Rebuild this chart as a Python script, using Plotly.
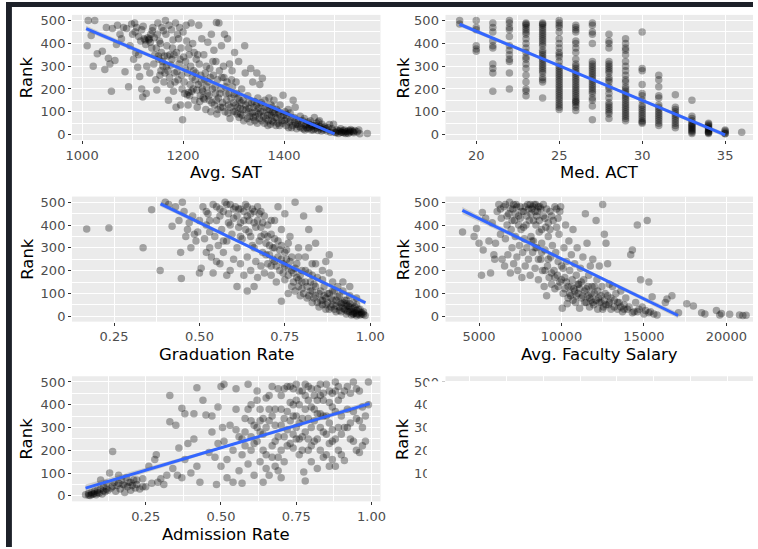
import plotly.graph_objects as go

W, H = 758, 549

# Avg. SAT vs rank
sat_pts = [
    (1010, 390), (1012, 500), (1018, 435), (1022, 300), (1025, 500), (1030, 355), (1040, 365), (1045, 285),
    (1048, 470), (1052, 335), (1055, 310), (1058, 190), (1060, 465), (1065, 325), (1068, 395), (1070, 480),
    (1075, 440), (1078, 420), (1082, 470), (1085, 275), (1088, 465), (1092, 210), (1095, 390), (1098, 485),
    (1100, 440), (1102, 330), (1104, 490), (1106, 360), (1108, 470), (1110, 295), (1112, 350), (1114, 255),
    (1116, 410), (1118, 200), (1120, 165), (1121, 475), (1123, 420), (1125, 415), (1127, 180), (1128, 300),
    (1130, 425), (1132, 415), (1133, 420), (1134, 270), (1136, 440), (1138, 380), (1140, 470), (1142, 310),
    (1144, 350), (1146, 240), (1148, 195), (1149, 440), (1150, 490), (1152, 330), (1154, 260), (1155, 400),
    (1157, 360), (1158, 470), (1160, 300), (1162, 230), (1163, 345), (1165, 500), (1166, 440), (1168, 390),
    (1170, 280), (1171, 150), (1172, 480), (1174, 350), (1175, 220), (1177, 460), (1178, 330), (1180, 415),
    (1181, 190), (1183, 270), (1185, 490), (1186, 120), (1187, 360), (1189, 440), (1190, 240), (1192, 310),
    (1193, 470), (1195, 130), (1196, 380), (1198, 200), (1199, 65), (1200, 450), (1201, 340), (1203, 180),
    (1204, 290), (1206, 480), (1207, 410), (1208, 175), (1210, 130), (1211, 185), (1212, 350), (1213, 170),
    (1215, 300), (1216, 490), (1218, 250), (1219, 400), (1220, 200), (1222, 360), (1223, 150), (1225, 270),
    (1226, 330), (1228, 120), (1230, 220), (1231, 480), (1232, 310), (1234, 170), (1235, 260), (1237, 420),
    (1238, 200), (1240, 160), (1241, 350), (1242, 155), (1243, 240), (1245, 110), (1246, 300), (1248, 180),
    (1249, 405), (1250, 230), (1252, 150), (1253, 290), (1255, 100), (1256, 440), (1258, 200), (1260, 260),
    (1261, 370), (1262, 130), (1264, 180), (1265, 320), (1266, 492), (1267, 90), (1268, 240), (1270, 160),
    (1271, 490), (1272, 280), (1274, 120), (1275, 200), (1276, 390), (1278, 140), (1280, 300), (1281, 250),
    (1282, 440), (1283, 100), (1285, 180), (1287, 230), (1288, 420), (1290, 130), (1292, 310), (1293, 70),
    (1295, 160), (1297, 280), (1298, 210), (1300, 140), (1302, 360), (1303, 100), (1305, 230), (1306, 180),
    (1308, 120), (1310, 320), (1312, 150), (1314, 90), (1316, 200), (1318, 110), (1320, 60), (1322, 390),
    (1323, 270), (1324, 130), (1328, 170), (1330, 100), (1332, 80), (1334, 290), (1336, 140), (1338, 230),
    (1340, 120), (1342, 60), (1344, 100), (1346, 270), (1348, 160), (1350, 90), (1352, 220), (1354, 130),
    (1356, 60), (1357, 247), (1358, 100), (1362, 150), (1364, 70), (1366, 110), (1368, 40), (1370, 160),
    (1372, 90), (1374, 130), (1376, 60), (1378, 100), (1380, 150), (1382, 75), (1385, 110), (1388, 50),
    (1390, 90), (1392, 130), (1395, 60), (1398, 172), (1399, 85), (1402, 100), (1404, 40), (1406, 70),
    (1408, 110), (1410, 55), (1412, 95), (1415, 30), (1418, 150), (1420, 75), (1422, 120), (1423, 45),
    (1428, 60), (1430, 35), (1432, 80), (1435, 50), (1438, 25), (1440, 70), (1442, 40), (1445, 30),
    (1448, 55), (1450, 30), (1452, 60), (1455, 35), (1458, 20), (1460, 75), (1462, 40), (1465, 30),
    (1468, 55), (1470, 60), (1472, 25), (1475, 45), (1478, 20), (1480, 35), (1485, 15), (1490, 44),
    (1492, 10), (1495, 25), (1498, 45), (1502, 10), (1505, 20), (1508, 5), (1510, 15), (1512, 25),
    (1515, 10), (1518, 8), (1520, 20), (1522, 5), (1525, 12), (1528, 18), (1530, 10), (1532, 22),
    (1535, 15), (1538, 8), (1540, 18), (1545, 12), (1548, 20), (1550, 3), (1565, 5),
    (1105, 450), (1112, 430), (1118, 460), (1126, 395), (1135, 405), (1139, 455), (1143, 425), (1147, 380),
    (1151, 345), (1153, 410), (1156, 280), (1159, 320), (1161, 455), (1164, 270), (1167, 300), (1169, 345),
    (1173, 250), (1176, 305), (1179, 380), (1182, 350), (1184, 230), (1188, 275), (1191, 420), (1194, 330),
    (1197, 260), (1202, 230), (1205, 320), (1209, 270), (1211, 380), (1214, 220), (1217, 190), (1221, 280),
    (1224, 240), (1227, 195), (1229, 350), (1233, 145), (1236, 230), (1239, 190), (1244, 270), (1247, 210),
    (1251, 170), (1254, 250), (1257, 140), (1259, 320), (1263, 210), (1266, 150), (1269, 110), (1273, 180),
    (1277, 250), (1279, 120), (1284, 210), (1286, 150), (1289, 95), (1291, 180), (1294, 120), (1296, 240),
    (1299, 100), (1301, 175), (1304, 130), (1307, 90), (1309, 160), (1311, 75), (1313, 115), (1315, 140),
    (1317, 85), (1319, 150), (1325, 110), (1327, 70), (1329, 140), (1331, 115), (1333, 55), (1337, 95),
    (1339, 75), (1341, 145), (1343, 80), (1345, 130), (1347, 50), (1349, 115), (1351, 70), (1353, 100),
    (1355, 140), (1359, 80), (1361, 50), (1363, 120), (1367, 85), (1369, 60), (1371, 110), (1373, 45),
    (1375, 85), (1377, 120), (1379, 55), (1381, 95), (1384, 40), (1386, 70), (1389, 100), (1391, 40),
    (1394, 80), (1397, 50), (1401, 60), (1405, 85), (1409, 30), (1413, 60), (1417, 40), (1421, 55),
    (1425, 25), (1427, 45), (1433, 30), (1437, 60), (1441, 20), (1444, 45), (1447, 25), (1451, 45),
    (1454, 20), (1457, 40), (1461, 25), (1464, 50), (1467, 18), (1471, 35), (1474, 15), (1477, 30),
    (1483, 25), (1487, 30), (1497, 15), (1503, 8), (1507, 15), (1513, 10), (1517, 18), (1521, 12),
    (1527, 5), (1531, 15), (1537, 12),
]

# Med. ACT: ranks found at each ACT score
act_ranks = {
    19: [500, 485],
    20: [500, 470, 460, 390, 375, 365],
    21: [490, 470, 450, 410, 390, 380, 310, 290, 270, 190],
    22: [500, 490, 470, 460, 430, 390, 370, 350, 330, 320, 270, 200],
    23: [490, 485, 480, 470, 460, 450, 440, 420, 400, 380, 360, 340, 330, 310, 290, 260, 230, 200, 190, 170],
    24: [490, 485, 480, 470, 460, 450, 440, 430, 420, 410, 400, 390, 370, 360, 350, 340, 330, 320, 310,
         300, 290, 280, 270, 250, 240, 230, 160],
    25: [500, 490, 480, 470, 450, 420, 400, 380, 360, 350, 340, 320, 300, 290, 280, 270, 260, 250, 240, 230,
         220, 210, 200, 190, 180, 170, 160, 150, 140, 130, 120, 110],
    26: [480, 470, 460, 450, 410, 400, 380, 360, 330, 310, 300, 290, 280, 270, 260, 250, 240, 230,
         220, 210, 200, 190, 180, 170, 160, 150, 145, 140, 130, 120, 105],
    27: [490, 480, 450, 440, 400, 320, 310, 300, 290, 280, 270, 260, 250, 240, 230, 220, 210, 200,
         190, 180, 160, 150, 125, 65],
    28: [440, 410, 400, 380, 320, 310, 300, 290, 280, 270, 250, 240, 230, 210, 200, 180, 160, 140,
         130, 120, 110, 100, 90, 70],
    29: [420, 400, 380, 370, 350, 320, 300, 280, 260, 240, 230, 210, 200, 190, 180, 170, 160, 150,
         140, 130, 120, 110, 100, 90, 80, 70, 60],
    30: [450, 290, 280, 220, 180, 170, 150, 130, 120, 110, 100, 90, 80, 70, 60, 55, 50],
    31: [260, 240, 210, 170, 160, 130, 120, 110, 100, 90, 80, 70, 60, 50, 40],
    32: [175, 120, 110, 100, 90, 80, 70, 60, 50, 40, 30],
    33: [150, 80, 70, 60, 50, 45, 40, 35, 30, 25, 20, 15, 10, 5],
    34: [50, 45, 40, 35, 30, 25, 20, 15, 12, 10, 8, 5],
    35: [20, 15, 10, 5, 3],
    36: [10],
}

# Graduation Rate vs rank
grad_pts = [
    (0.17, 383), (0.235, 387), (0.335, 300), (0.36, 467), (0.385, 200),
    (0.40, 500), (0.41, 490), (0.42, 395), (0.43, 480), (0.44, 420), (0.445, 280), (0.447, 165), (0.45, 500),
    (0.455, 460), (0.46, 350), (0.465, 380), (0.47, 410), (0.475, 300), (0.48, 440), (0.485, 360), (0.49, 330),
    (0.495, 370), (0.50, 190), (0.50, 420), (0.505, 210), (0.51, 480), (0.515, 340), (0.52, 280), (0.52, 400),
    (0.525, 450), (0.53, 300), (0.53, 370), (0.535, 260), (0.54, 490), (0.54, 190), (0.545, 350), (0.55, 240),
    (0.55, 420), (0.555, 310), (0.56, 470), (0.56, 230), (0.565, 380), (0.57, 280), (0.57, 330), (0.575, 500),
    (0.58, 330), (0.58, 180), (0.585, 450), (0.59, 200), (0.59, 490), (0.59, 400), (0.595, 360), (0.60, 250),
    (0.60, 430), (0.605, 480), (0.61, 130), (0.61, 300), (0.615, 390), (0.62, 230), (0.62, 470), (0.62, 350),
    (0.625, 340), (0.63, 180), (0.63, 420), (0.635, 490), (0.64, 260), (0.64, 110), (0.64, 440), (0.645, 370),
    (0.65, 200), (0.65, 450), (0.655, 310), (0.66, 130), (0.66, 410), (0.66, 300), (0.665, 240), (0.67, 480),
    (0.67, 170), (0.675, 330), (0.68, 220), (0.68, 390), (0.68, 460), (0.685, 280), (0.69, 190), (0.69, 440),
    (0.695, 320), (0.70, 230), (0.70, 350), (0.705, 270), (0.71, 180), (0.71, 420), (0.71, 220), (0.715, 300),
    (0.72, 240), (0.72, 340), (0.72, 420), (0.725, 150), (0.73, 260), (0.73, 480), (0.735, 200), (0.74, 310),
    (0.74, 65), (0.74, 380), (0.745, 230), (0.75, 160), (0.75, 450), (0.75, 280), (0.755, 290), (0.76, 100),
    (0.76, 210), (0.76, 320), (0.765, 350), (0.77, 130), (0.77, 260), (0.775, 190), (0.78, 500), (0.78, 110),
    (0.785, 230), (0.79, 160), (0.79, 300), (0.79, 260), (0.795, 90), (0.80, 200), (0.80, 120), (0.805, 440),
    (0.81, 150), (0.81, 260), (0.815, 80), (0.82, 190), (0.82, 380), (0.82, 300), (0.825, 110), (0.83, 60),
    (0.83, 230), (0.83, 180), (0.835, 140), (0.84, 320), (0.84, 90), (0.84, 230), (0.845, 170), (0.85, 40),
    (0.85, 470), (0.855, 110), (0.86, 200), (0.86, 70), (0.86, 160), (0.865, 130), (0.87, 50), (0.87, 240),
    (0.87, 80), (0.875, 100), (0.88, 30), (0.88, 270), (0.88, 190), (0.885, 80), (0.89, 150), (0.89, 50),
    (0.89, 110), (0.895, 110), (0.90, 20), (0.90, 70), (0.905, 130), (0.91, 40), (0.91, 90), (0.91, 60),
    (0.915, 20), (0.92, 60), (0.92, 110), (0.92, 150), (0.925, 30), (0.93, 10), (0.93, 70), (0.93, 25),
    (0.935, 45), (0.94, 20), (0.94, 90), (0.94, 130), (0.945, 5), (0.95, 35), (0.95, 60), (0.95, 12),
    (0.955, 15), (0.96, 25), (0.96, 50), (0.96, 80), (0.965, 10), (0.97, 5), (0.97, 30), (0.975, 15),
    (0.98, 8), (0.985, 3),
    (0.52, 460), (0.53, 420), (0.55, 480), (0.56, 440), (0.57, 460), (0.58, 490), (0.585, 410), (0.60, 470),
    (0.61, 440), (0.615, 470), (0.62, 410), (0.63, 460), (0.635, 380), (0.64, 480), (0.645, 420), (0.65, 350),
    (0.655, 470), (0.66, 460), (0.665, 390), (0.67, 420), (0.675, 450), (0.68, 350), (0.685, 410), (0.69, 360),
    (0.695, 270), (0.70, 400), (0.705, 310), (0.71, 360), (0.715, 250), (0.72, 300), (0.725, 220), (0.73, 330),
    (0.735, 290), (0.74, 250), (0.745, 190), (0.75, 220), (0.755, 250), (0.76, 180), (0.765, 240), (0.77, 200),
    (0.775, 150), (0.78, 210), (0.785, 170), (0.79, 130), (0.795, 180), (0.80, 150), (0.805, 100), (0.81, 200),
    (0.815, 130), (0.82, 90), (0.825, 150), (0.83, 110), (0.835, 80), (0.84, 130), (0.845, 60), (0.85, 100),
    (0.855, 70), (0.86, 50), (0.865, 90), (0.87, 30), (0.875, 60), (0.88, 100), (0.885, 40), (0.89, 70),
    (0.895, 30), (0.90, 45), (0.905, 85), (0.91, 25), (0.915, 55), (0.92, 35), (0.925, 70), (0.93, 45),
    (0.935, 20), (0.94, 55), (0.945, 30), (0.95, 20), (0.955, 40), (0.96, 10), (0.965, 30), (0.97, 18),
    (0.975, 8), (0.98, 20), (0.96, 2), (0.95, 8), (0.94, 40), (0.93, 55),
]

# Avg. Faculty Salary vs rank
salary_pts = [
    (4000, 370), (4700, 350), (4850, 385), (5000, 320), (5150, 180), (5200, 455), (5250, 290), (5400, 430),
    (5600, 330), (5700, 190), (5800, 410), (5900, 270), (5950, 250), (6000, 320), (6100, 460), (6200, 490),
    (6300, 360), (6350, 430), (6400, 250), (6500, 480), (6550, 220), (6600, 340), (6700, 400), (6750, 270),
    (6800, 450), (6850, 500), (6900, 190), (6950, 380), (7000, 300), (7050, 470), (7100, 230), (7150, 420),
    (7200, 350), (7250, 490), (7300, 260), (7350, 200), (7400, 440), (7450, 310), (7500, 480), (7550, 380),
    (7600, 170), (7650, 280), (7700, 460), (7750, 340), (7800, 220), (7850, 400), (7900, 300), (7950, 490),
    (8000, 250), (8050, 420), (8100, 180), (8150, 350), (8200, 470), (8250, 280), (8300, 330), (8350, 490),
    (8400, 210), (8450, 400), (8500, 300), (8550, 460), (8600, 160), (8650, 370), (8700, 480), (8750, 250),
    (8800, 320), (8850, 200), (8900, 440), (8950, 130), (9000, 290), (9050, 390), (9100, 90), (9150, 220),
    (9200, 350), (9250, 170), (9300, 460), (9350, 260), (9400, 140), (9450, 310), (9500, 420), (9550, 200),
    (9600, 120), (9650, 280), (9700, 470), (9750, 180), (9800, 240), (9850, 360), (9900, 150), (9950, 480),
    (10000, 220), (10050, 35), (10100, 100), (10150, 300), (10200, 170), (10250, 400), (10300, 240),
    (10350, 55), (10400, 130), (10450, 330), (10500, 200), (10550, 90), (10600, 270), (10650, 160),
    (10700, 380), (10750, 120), (10800, 230), (10850, 60), (10900, 180), (10950, 300), (11000, 100),
    (11050, 140), (11100, 35), (11150, 210), (11200, 80), (11300, 260), (11350, 160), (11400, 60),
    (11450, 450), (11500, 120), (11550, 320), (11600, 90), (11650, 180), (11700, 40), (11750, 220),
    (11800, 70), (11850, 130), (11900, 250), (11950, 50), (12000, 100), (12100, 420), (12150, 160),
    (12200, 30), (12250, 80), (12300, 220), (12400, 60), (12450, 130), (12500, 490), (12550, 40),
    (12600, 360), (12650, 100), (12700, 320), (12800, 230), (12850, 50), (12900, 140), (13000, 80),
    (13100, 130), (13200, 40), (13300, 100), (13400, 30), (13500, 60), (13600, 110), (13700, 20),
    (13800, 50), (13900, 80), (14000, 30), (14200, 270), (14300, 290), (14400, 20), (14500, 60),
    (14600, 400), (14700, 30), (14800, 160), (14900, 40), (15000, 10), (15200, 420), (15300, 150),
    (15400, 20), (15500, 85), (15600, 10), (15800, 5), (16300, 60), (16400, 75), (16700, 90),
    (17100, 15), (17600, 55), (18000, 45), (18500, 15), (18700, 10), (19400, 25), (19600, 5),
    (19700, 12), (20200, 8), (20800, 5), (21000, 3), (21200, 4),
    (6300, 470), (6600, 490), (6700, 440), (6900, 470), (7000, 420), (7100, 490), (7200, 450), (7300, 480),
    (7400, 400), (7500, 430), (7600, 460), (7700, 390), (7800, 480), (7900, 440), (8000, 470), (8100, 490),
    (8150, 450), (8250, 480), (8300, 420), (8400, 460), (8450, 490), (8500, 440), (8600, 480), (8650, 420),
    (8750, 470), (8800, 380), (8900, 490), (9000, 430), (9100, 470), (9200, 410), (9300, 380), (9400, 440),
    (9600, 480), (9700, 390), (9800, 430), (9900, 460), (8200, 330), (8400, 300), (8600, 250), (8800, 280),
    (9000, 200), (9200, 250), (9400, 190), (9600, 170), (9800, 130), (10000, 160), (10100, 210),
    (10200, 120), (10300, 150), (10400, 80), (10500, 100), (10600, 130), (10700, 70), (10800, 110),
    (10900, 90), (11000, 140), (11100, 120), (11200, 150), (11300, 90), (11400, 110), (11500, 60),
    (11600, 130), (11700, 80), (11800, 100), (11900, 60), (12000, 130), (12100, 70), (12200, 110),
    (12300, 60), (12400, 90), (12500, 30), (12600, 70), (12700, 50), (12800, 90), (12900, 60), (13000, 30),
    (13200, 70), (13400, 60), (13600, 40), (13800, 30), (14100, 40), (14300, 15), (14600, 20), (15100, 25),
    (15300, 15),
]

# Admission Rate vs rank
admit_pts = [
    (0.05, 5), (0.06, 10), (0.065, 2), (0.07, 15), (0.075, 8), (0.08, 20), (0.085, 5), (0.09, 25),
    (0.095, 12), (0.10, 30), (0.10, 70), (0.105, 8), (0.11, 40), (0.115, 18), (0.12, 55), (0.125, 25),
    (0.13, 100), (0.135, 35), (0.14, 195), (0.145, 60), (0.15, 20), (0.155, 45), (0.16, 90), (0.165, 30),
    (0.17, 70), (0.175, 50), (0.18, 15), (0.185, 80), (0.19, 40), (0.195, 60), (0.20, 25), (0.205, 45),
    (0.21, 70), (0.215, 35), (0.22, 50), (0.23, 30), (0.24, 75), (0.25, 40), (0.26, 130), (0.27, 55),
    (0.28, 160), (0.285, 180), (0.29, 60), (0.30, 75), (0.31, 50), (0.32, 90), (0.33, 440), (0.33, 325),
    (0.34, 120), (0.35, 310), (0.355, 90), (0.36, 210), (0.37, 385), (0.37, 80), (0.38, 360), (0.38, 160),
    (0.39, 230), (0.40, 100), (0.41, 250), (0.41, 360), (0.42, 475), (0.42, 130), (0.43, 60), (0.44, 420),
    (0.45, 355), (0.46, 190), (0.47, 280), (0.47, 350), (0.48, 170), (0.485, 50), (0.49, 390), (0.49, 230),
    (0.50, 480), (0.50, 130), (0.505, 300), (0.51, 490), (0.51, 240), (0.52, 160), (0.52, 80), (0.53, 310),
    (0.54, 200), (0.54, 60), (0.55, 470), (0.55, 380), (0.56, 260), (0.56, 110), (0.57, 180), (0.57, 55),
    (0.58, 340), (0.58, 220), (0.58, 280), (0.59, 490), (0.59, 140), (0.60, 400), (0.60, 200), (0.60, 260),
    (0.61, 310), (0.61, 90), (0.62, 460), (0.62, 240), (0.62, 300), (0.63, 380), (0.63, 150), (0.64, 60),
    (0.64, 270), (0.64, 340), (0.65, 430), (0.65, 180), (0.66, 330), (0.66, 90), (0.66, 380), (0.67, 480),
    (0.67, 220), (0.68, 130), (0.68, 380), (0.68, 310), (0.69, 470), (0.69, 260), (0.70, 200), (0.70, 80),
    (0.70, 440), (0.71, 340), (0.71, 150), (0.72, 480), (0.72, 290), (0.72, 370), (0.73, 230), (0.73, 410),
    (0.74, 350), (0.74, 270), (0.74, 470), (0.75, 490), (0.75, 420), (0.75, 250), (0.76, 180), (0.76, 320),
    (0.76, 400), (0.77, 260), (0.77, 460), (0.775, 105), (0.78, 380), (0.78, 65), (0.78, 440), (0.79, 200),
    (0.79, 480), (0.79, 340), (0.80, 300), (0.80, 150), (0.80, 390), (0.81, 440), (0.81, 240), (0.82, 360),
    (0.82, 120), (0.82, 470), (0.83, 490), (0.83, 200), (0.83, 300), (0.84, 280), (0.84, 420), (0.84, 450),
    (0.85, 180), (0.85, 350), (0.86, 460), (0.86, 130), (0.86, 410), (0.87, 240), (0.87, 390), (0.87, 290),
    (0.88, 500), (0.88, 130), (0.88, 460), (0.89, 300), (0.89, 200), (0.90, 440), (0.90, 350), (0.91, 155),
    (0.91, 300), (0.92, 480), (0.92, 380), (0.93, 320), (0.94, 500), (0.94, 240), (0.95, 200), (0.95, 340),
    (0.96, 460), (0.96, 190), (0.97, 300), (0.97, 390), (0.98, 240), (0.99, 500), (0.99, 400),
    (0.60, 330), (0.62, 420), (0.63, 280), (0.64, 200), (0.65, 300), (0.66, 440), (0.67, 350), (0.68, 240),
    (0.69, 170), (0.70, 310), (0.70, 380), (0.71, 260), (0.71, 470), (0.72, 220), (0.73, 330), (0.73, 480),
    (0.74, 210), (0.74, 400), (0.75, 300), (0.75, 350), (0.76, 460), (0.76, 250), (0.77, 340), (0.77, 200),
    (0.78, 280), (0.78, 490), (0.79, 420), (0.79, 250), (0.80, 470), (0.80, 220), (0.81, 330), (0.81, 380),
    (0.82, 250), (0.82, 420), (0.83, 440), (0.83, 360), (0.84, 350), (0.84, 170), (0.85, 490), (0.85, 270),
    (0.86, 320), (0.86, 230), (0.87, 450), (0.87, 160), (0.88, 370), (0.88, 250), (0.89, 420), (0.89, 480),
    (0.90, 270), (0.90, 180), (0.91, 460), (0.92, 300), (0.93, 450), (0.93, 250), (0.94, 370), (0.95, 470),
    (0.96, 330), (0.97, 220), (0.98, 350), (0.55, 290), (0.57, 250), (0.59, 380), (0.61, 230), (0.63, 330),
    (0.65, 120), (0.67, 170), (0.69, 110), (0.06, 3), (0.07, 6), (0.08, 10), (0.09, 15), (0.11, 22),
    (0.12, 30), (0.14, 42), (0.16, 55), (0.18, 45), (0.20, 60), (0.22, 70), (0.24, 40),
]

# linear fits: x ends, y ends, CI half-width at [left, middle, right]
fit_sat_x, fit_sat_y, ci_sat = [1008, 1500], [465, 3], [12, 5, 12]
fit_act_x, fit_act_y, ci_act = [19, 35], [484, -2], [10, 4, 10]
fit_grad_x, fit_grad_y, ci_grad = [0.386, 0.986], [493, 59], [12, 5, 10]
fit_sal_x, fit_sal_y, ci_sal = [3990, 17070], [464, 3], [15, 5, 12]
fit_adm_x, fit_adm_y, ci_adm = [0.05, 0.994], [34, 405], [16, 5, 12]

rank_ticks = [0, 100, 200, 300, 400, 500]

sat_x = [p[0] for p in sat_pts]
sat_y = [p[1] for p in sat_pts]
act_x = [k for k, v in act_ranks.items() for _ in v]
act_y = [r for v in act_ranks.values() for r in v]
grad_x = [p[0] for p in grad_pts]
grad_y = [p[1] for p in grad_pts]
sal_x = [p[0] for p in salary_pts]
sal_y = [p[1] for p in salary_pts]
adm_x = [p[0] for p in admit_pts]
adm_y = [p[1] for p in admit_pts]


def px(x):
    return x / W


def py(y):
    return 1 - y / H


# panel frames in pixels
cols = [(67, 380), (446, 758)]
rows = [(13, 139), (196, 322), (377, 503)]

panels = [
    dict(x=sat_x, y=sat_y, fx=fit_sat_x, fy=fit_sat_y, ci=ci_sat, title="Avg. SAT", col=0, row=0,
         xr=[980, 1591], tv=[1000, 1200, 1400], tt=None, mv=[1100, 1300, 1500]),
    dict(x=act_x, y=act_y, fx=fit_act_x, fy=fit_act_y, ci=ci_act, title="Med. ACT", col=1, row=0,
         xr=[18.15, 36.68], tv=[20, 25, 30, 35], tt=None, mv=[22.5, 27.5, 32.5]),
    dict(x=grad_x, y=grad_y, fx=fit_grad_x, fy=fit_grad_y, ci=ci_grad, title="Graduation Rate", col=0, row=1,
         xr=[0.127, 1.03], tv=[0.25, 0.5, 0.75, 1.0], tt=["0.25", "0.50", "0.75", "1.00"],
         mv=[0.375, 0.625, 0.875]),
    dict(x=sal_x, y=sal_y, fx=fit_sal_x, fy=fit_sal_y, ci=ci_sal, title="Avg. Faculty Salary", col=1, row=1,
         xr=[2968, 21617], tv=[5000, 10000, 15000, 20000], tt=["5000", "10000", "15000", "20000"],
         mv=[7500, 12500, 17500]),
    dict(x=adm_x, y=adm_y, fx=fit_adm_x, fy=fit_adm_y, ci=ci_adm, title="Admission Rate", col=0, row=2,
         xr=[0.005, 1.03], tv=[0.25, 0.5, 0.75, 1.0], tt=["0.25", "0.50", "0.75", "1.00"],
         mv=[0.125, 0.375, 0.625, 0.875]),
]

tick_font = dict(family="DejaVu Sans", size=13, color="#4D4D4D")
title_font = dict(family="DejaVu Sans", size=16.5, color="black")

fig = go.Figure()
annotations = []


def axis_style(**kw):
    d = dict(ticks="outside", ticklen=3, tickwidth=1, tickcolor="#333333", tickfont=tick_font,
             showgrid=True, gridcolor="white", gridwidth=1.2, zeroline=False, showline=False,
             fixedrange=True)
    d.update(kw)
    return d


for i, p in enumerate(panels, start=1):
    xa = "x" if i == 1 else f"x{i}"
    ya = "y" if i == 1 else f"y{i}"
    c0, c1 = cols[p["col"]]
    r0, r1 = rows[p["row"]]

    # confidence band
    x0, x1 = p["fx"]
    y0, y1 = p["fy"]
    xm, ym = (x0 + x1) / 2, (y0 + y1) / 2
    lo, mid, hi = p["ci"]
    fig.add_trace(go.Scatter(
        x=[x0, xm, x1, x1, xm, x0], y=[y0 + lo, ym + mid, y1 + hi, y1 - hi, ym - mid, y0 - lo],
        fill="toself", fillcolor="rgba(153,153,153,0.4)", line=dict(width=0), mode="lines",
        hoverinfo="skip", xaxis=xa, yaxis=ya))
    fig.add_trace(go.Scatter(
        x=p["x"], y=p["y"], mode="markers",
        marker=dict(size=7.5, color="rgba(0,0,0,0.32)", line=dict(width=0)),
        xaxis=xa, yaxis=ya))
    fig.add_trace(go.Scatter(
        x=p["fx"], y=p["fy"], mode="lines", line=dict(color="#3366FF", width=3),
        xaxis=xa, yaxis=ya))

    xkw = dict(domain=[px(c0), px(c1)], range=p["xr"], tickvals=p["tv"], anchor=ya,
               minor=dict(tickvals=p["mv"], showgrid=True, gridcolor="white", gridwidth=0.6, ticks=""))
    if p["tt"]:
        xkw["ticktext"] = p["tt"]
    fig.update_layout({("xaxis" if i == 1 else f"xaxis{i}"): axis_style(**xkw)})
    fig.update_layout({("yaxis" if i == 1 else f"yaxis{i}"): axis_style(
        domain=[py(r1), py(r0)], range=[-24, 525], tickvals=rank_ticks, anchor=xa,
        minor=dict(tickvals=[50, 150, 250, 350, 450], showgrid=True, gridcolor="white",
                   gridwidth=0.6, ticks=""))})

    annotations.append(dict(text=p["title"], x=px((c0 + c1) / 2), y=py(r1 + 33), xref="paper", yref="paper",
                            showarrow=False, font=title_font, xanchor="center", yanchor="middle"))
    annotations.append(dict(text="Rank", x=px(21 if p["col"] == 0 else 403), y=py((r0 + r1) / 2),
                            xref="paper", yref="paper", showarrow=False, font=title_font, textangle=-90,
                            xanchor="center", yanchor="middle"))

# sixth panel, only partly drawn in the reference
fig.add_trace(go.Scatter(x=[], y=[], xaxis="x6", yaxis="y6"))
fig.update_layout(
    xaxis6=axis_style(domain=[px(446), 1], range=[0, 312], tickvals=[24, 99, 174, 249], showticklabels=False,
                      ticks="", anchor="y6",
                      minor=dict(tickvals=[61.5, 136.5, 211.5, 286.5], showgrid=True, gridcolor="white",
                                 gridwidth=0.6, ticks="")),
    yaxis6=axis_style(domain=[py(503), py(377)], range=[-24, 525], tickvals=rank_ticks[1:], anchor="x6"),
)
annotations.append(dict(text="Rank", x=px(403), y=py(440), xref="paper", yref="paper", showarrow=False,
                        font=title_font, textangle=-90, xanchor="center", yanchor="middle"))

shapes = [
    # unrendered part of the sixth panel
    dict(type="rect", xref="paper", yref="paper", x0=px(427), x1=1, y0=0, y1=py(382),
         fillcolor="white", line=dict(width=0), layer="above"),
    # dark window frame
    dict(type="rect", xref="paper", yref="paper", x0=0, x1=1, y0=py(5), y1=1,
         fillcolor="#1d2129", line=dict(width=0), layer="above"),
    dict(type="rect", xref="paper", yref="paper", x0=0, x1=px(6), y0=0, y1=1,
         fillcolor="#1d2129", line=dict(width=0), layer="above"),
]

fig.update_layout(
    width=W, height=H, autosize=False,
    margin=dict(l=0, r=0, t=0, b=0),
    paper_bgcolor="white", plot_bgcolor="#EBEBEB",
    showlegend=False,
    font=dict(family="DejaVu Sans"),
    annotations=annotations,
    shapes=shapes,
)

# drop the page's default body margin so the figure sits at the window corner
fig.write_html("out.html", config={"displayModeBar": False},
               post_script="document.body.style.margin='0';document.body.style.overflow='hidden';")
